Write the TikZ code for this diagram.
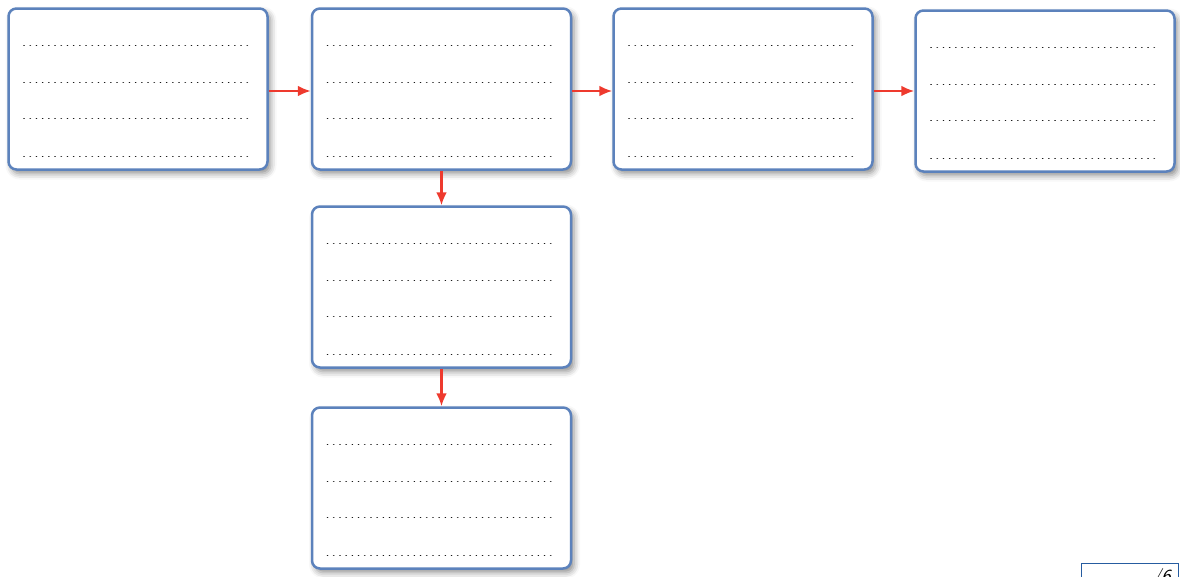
\documentclass[tikz,border=0pt]{standalone}
\usetikzlibrary{arrows.meta,shadows.blur,calc}

\definecolor{boxblue}{RGB}{92,130,188}
\definecolor{arrowred}{RGB}{238,58,46}
\definecolor{tagblue}{RGB}{38,92,160}

\tikzset{
  dotline/.style={black!90, line width=1.6pt, dash pattern=on 0.1pt off 6.1pt, line cap=round},
  card/.style={draw=boxblue, line width=2.5pt, rounded corners=8pt, fill=white,
    minimum width=259pt, minimum height=161pt,
    blur shadow={shadow xshift=3pt, shadow yshift=-4pt, shadow blur radius=6pt, shadow opacity=45},
    path picture={
      \foreach \y in {37,74,110,148}
        \draw[dotline] ($(path picture bounding box.north west)+(15.5,\y)$) -- ++(227,0);
    }},
  flow/.style={arrowred, line width=2.3pt, -{Latex[length=13pt,width=11pt]}},
  tagbox/.style={draw=tagblue, line width=1.3pt, fill=white, minimum width=97pt, minimum height=30pt,
    text width=82pt, align=right, font=\fontsize{20}{24}\selectfont\sffamily\itshape},
}

\begin{document}
\begin{tikzpicture}[x=1pt,y=-1pt]
\useasboundingbox (0,0) rectangle (1180,576);

% top row
\node[card] (step1) at (138,89) {};
\node[card] (step2) at (441.5,89) {};
\node[card] (step3) at (743,89) {};
\node[card] (step4) at (1045,91) {};
% branch down
\node[card] (step5) at (441.5,287) {};
\node[card] (step6) at (441.5,488) {};

\draw[flow] ([yshift=-2pt]step1.east) -- ([yshift=-2pt]step1.east -| step2.west);
\draw[flow] ([yshift=-2pt]step2.east) -- ([yshift=-2pt]step2.east -| step3.west);
\draw[flow] ([yshift=-2pt]step3.east) -- (step4.west);
\draw[flow] (step2.south) -- (step5.north);
\draw[flow] (step5.south) -- (step6.north);

% page tag
\node[tagbox, anchor=north west] (tag) at (1080.5,562.5) {/6};
\end{tikzpicture}
\end{document}
